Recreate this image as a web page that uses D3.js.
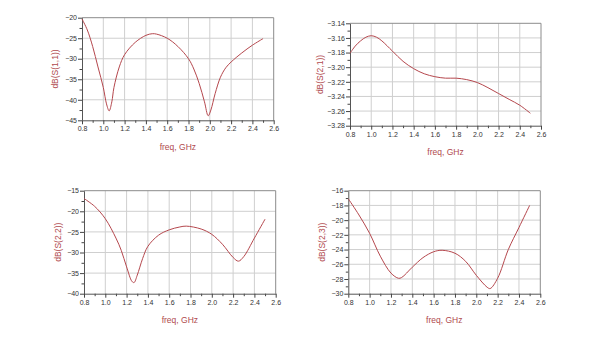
<!DOCTYPE html>
<html>
<head>
<meta charset="utf-8">
<script src="https://cdn.jsdelivr.net/npm/d3@7"></script>
<style>
  html, body { margin: 0; padding: 0; background: #fff; }
  svg { display: block; }
  .tick text { font-family: "Liberation Sans", Arial, sans-serif; font-size: 7px; fill: #333; }
  .title { font-family: "Liberation Sans", Arial, sans-serif; font-size: 8.5px; fill: #b04a4e; }
</style>
</head>
<body>
<svg id="chart" width="600" height="344"></svg>
<script>
// Frequency sweep and S-parameter magnitudes (dB) for each trace
const freqTicks = [0.8, 1.0, 1.2, 1.4, 1.6, 1.8, 2.0, 2.2, 2.4, 2.6];

const s11Freq = [0.80, 0.85, 0.90, 0.95, 1.00, 1.03, 1.055, 1.08, 1.10, 1.15, 1.20, 1.30, 1.40, 1.46, 1.50, 1.60, 1.70, 1.80, 1.85, 1.90, 1.95, 1.985, 2.01, 2.05, 2.10, 2.15, 2.20, 2.30, 2.40, 2.50];
const s11Db   = [-20.3, -23.0, -27.0, -32.0, -37.0, -41.0, -42.7, -40.5, -37.0, -32.0, -29.0, -26.0, -24.3, -23.9, -24.0, -25.0, -27.0, -30.0, -32.5, -36.0, -40.5, -43.9, -42.5, -38.5, -34.5, -32.2, -30.8, -28.6, -26.7, -25.1];
const s11Ticks = [-45, -40, -35, -30, -25, -20];

const s21Freq = [0.80, 0.85, 0.90, 0.95, 1.00, 1.05, 1.10, 1.20, 1.30, 1.40, 1.50, 1.60, 1.70, 1.80, 1.90, 2.00, 2.10, 2.20, 2.30, 2.40, 2.50];
const s21Db   = [-3.181, -3.171, -3.164, -3.159, -3.157, -3.159, -3.164, -3.178, -3.192, -3.202, -3.209, -3.213, -3.215, -3.215, -3.217, -3.221, -3.228, -3.236, -3.244, -3.252, -3.263];
const s21Ticks = [-3.28, -3.26, -3.24, -3.22, -3.20, -3.18, -3.16, -3.14];

const s22Freq = [0.80, 0.90, 1.00, 1.10, 1.15, 1.20, 1.25, 1.27, 1.30, 1.35, 1.40, 1.50, 1.60, 1.70, 1.76, 1.90, 2.00, 2.10, 2.20, 2.25, 2.30, 2.40, 2.50];
const s22Db   = [-16.9, -18.8, -21.8, -26.5, -29.5, -33.5, -37.0, -37.3, -35.5, -31.5, -28.5, -25.8, -24.5, -23.8, -23.6, -24.3, -25.6, -28.0, -31.2, -32.1, -31.0, -26.5, -21.9];
const s22Ticks = [-40, -35, -30, -25, -20, -15];

const s23Freq = [0.80, 0.90, 1.00, 1.10, 1.20, 1.27, 1.30, 1.40, 1.50, 1.60, 1.68, 1.80, 1.90, 2.00, 2.10, 2.13, 2.20, 2.30, 2.40, 2.50];
const s23Db   = [-17.1, -19.3, -21.8, -24.9, -27.2, -27.9, -27.8, -26.4, -25.1, -24.3, -24.1, -24.5, -25.6, -27.5, -29.1, -29.3, -27.9, -24.0, -21.0, -18.0];
const s23Ticks = [-30, -28, -26, -24, -22, -20, -18, -16];

const panels = [
  { label: "dB(S(1,1))", freq: s11Freq, db: s11Db, ticks: s11Ticks, fmt: d3.format("d"),   box: [82, 17.7, 273.7, 120.3], labelX: 55 },
  { label: "dB(S(2,1))", freq: s21Freq, db: s21Db, ticks: s21Ticks, fmt: d3.format(".2f"), box: [350, 23.3, 541, 125.7],  labelX: 320 },
  { label: "dB(S(2,2))", freq: s22Freq, db: s22Db, ticks: s22Ticks, fmt: d3.format("d"),   box: [84, 190.7, 275.7, 293.7], labelX: 58 },
  { label: "dB(S(2,3))", freq: s23Freq, db: s23Ticks && s23Db, ticks: s23Ticks, fmt: d3.format("d"), box: [348.3, 190.7, 540.3, 293.7], labelX: 322 }
];

const svg = d3.select("#chart");
const lineColor = "#b5474d";

panels.forEach(p => {
  const [x0, y0, x1, y1] = p.box;
  const x = d3.scaleLinear().domain([0.8, 2.6]).range([x0, x1]);
  const yMin = d3.min(p.ticks), yMax = d3.max(p.ticks);
  const y = d3.scaleLinear().domain([yMin, yMax]).range([y1, y0]);
  const g = svg.append("g");

  // grid
  g.append("g").selectAll("line").data(freqTicks.slice(1, -1)).join("line")
    .attr("x1", d => x(d)).attr("x2", d => x(d)).attr("y1", y0).attr("y2", y1)
    .attr("stroke", "#cfcfcf").attr("stroke-width", 1);
  g.append("g").selectAll("line").data(p.ticks.slice(1, -1)).join("line")
    .attr("x1", x0).attr("x2", x1).attr("y1", d => y(d)).attr("y2", d => y(d))
    .attr("stroke", "#cfcfcf").attr("stroke-width", 1);

  // top and right frame
  g.append("path")
    .attr("d", `M${x0},${y0}H${x1}V${y1}`)
    .attr("fill", "none").attr("stroke", "#8c8c8c").attr("stroke-width", 1);

  // minor ticks
  const xStep = 0.2, yStep = p.ticks[1] - p.ticks[0];
  const xMinor = freqTicks.slice(0, -1).map(d => d + xStep / 2);
  const yMinor = p.ticks.slice(0, -1).map(d => d + yStep / 2);
  g.append("g").attr("transform", `translate(0,${y1})`)
    .call(d3.axisBottom(x).tickValues(xMinor).tickSize(2.5).tickFormat(""))
    .call(a => a.select(".domain").remove())
    .selectAll("line").attr("stroke", "#444");
  g.append("g").attr("transform", `translate(${x0},0)`)
    .call(d3.axisLeft(y).tickValues(yMinor).tickSize(2.5).tickFormat(""))
    .call(a => a.select(".domain").remove())
    .selectAll("line").attr("stroke", "#444");

  // main axes
  const xa = g.append("g").attr("transform", `translate(0,${y1})`)
    .call(d3.axisBottom(x).tickValues(freqTicks).tickSize(4).tickSizeOuter(0).tickPadding(2).tickFormat(d3.format(".1f")));
  const ya = g.append("g").attr("transform", `translate(${x0},0)`)
    .call(d3.axisLeft(y).tickValues(p.ticks).tickSize(4).tickSizeOuter(0).tickPadding(1).tickFormat(p.fmt));
  [xa, ya].forEach(a => {
    a.select(".domain").attr("stroke", "#555");
    a.selectAll(".tick line").attr("stroke", "#444");
  });

  // trace
  const pts = p.freq.map((f, i) => [f, p.db[i]]);
  g.append("path").datum(pts)
    .attr("fill", "none").attr("stroke", lineColor).attr("stroke-width", 1)
    .attr("d", d3.line().x(d => x(d[0])).y(d => y(d[1])).curve(d3.curveCatmullRom.alpha(0.5)));

  // titles
  g.append("text").attr("class", "title")
    .attr("x", (x0 + x1) / 2).attr("y", y1 + 29.5).attr("text-anchor", "middle")
    .text("freq, GHz");
  g.append("text").attr("class", "title")
    .attr("transform", `translate(${p.labelX + 3},${(y0 + y1) / 2}) rotate(-90)`)
    .attr("text-anchor", "middle")
    .text(p.label);
});
</script>
</body>
</html>
